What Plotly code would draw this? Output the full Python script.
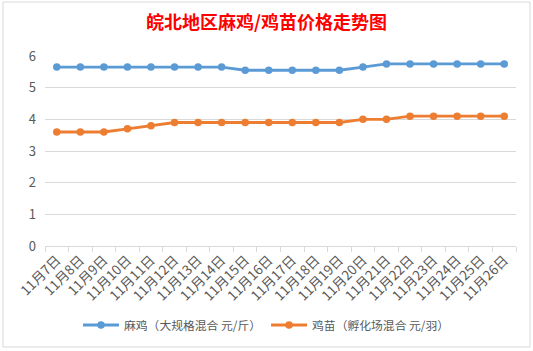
import plotly.graph_objects as go

dates = ["11月7日", "11月8日", "11月9日", "11月10日", "11月11日", "11月12日", "11月13日",
         "11月14日", "11月15日", "11月16日", "11月17日", "11月18日", "11月19日", "11月20日",
         "11月21日", "11月22日", "11月23日", "11月24日", "11月25日", "11月26日"]
maji = [5.65, 5.65, 5.65, 5.65, 5.65, 5.65, 5.65, 5.65, 5.55, 5.55, 5.55, 5.55, 5.55,
        5.65, 5.75, 5.75, 5.75, 5.75, 5.75, 5.75]
jimiao = [3.6, 3.6, 3.6, 3.7, 3.8, 3.9, 3.9, 3.9, 3.9, 3.9, 3.9, 3.9, 3.9,
          4.0, 4.0, 4.1, 4.1, 4.1, 4.1, 4.1]
name_maji = "麻鸡（大规格混合 元/斤）"
name_jimiao = "鸡苗（孵化场混合 元/羽）"
title_text = "皖北地区麻鸡/鸡苗价格走势图"
yticks = [0, 1, 2, 3, 4, 5, 6]

FONT = "Noto Sans CJK SC"
W, H = 533, 351
L, R, T, B = 45, 17, 56, 105
pw, ph = W - L - R, H - T - B

def px2x(px):
    return (px - L) / pw

def px2y(py):
    return (H - B - py) / ph

fig = go.Figure()
fig.add_trace(go.Scatter(x=dates, y=maji, name=name_maji, mode="lines+markers",
                         line=dict(color="#5B9BD5", width=2.8),
                         marker=dict(size=7.5, color="#5B9BD5")))
fig.add_trace(go.Scatter(x=dates, y=jimiao, name=name_jimiao, mode="lines+markers",
                         line=dict(color="#ED7D31", width=2.8),
                         marker=dict(size=7.5, color="#ED7D31")))

fig.update_layout(
    width=W, height=H,
    margin=dict(l=L, r=R, t=T, b=B, autoexpand=False),
    paper_bgcolor="white", plot_bgcolor="white",
    font=dict(family=FONT, color="#595959", size=12),
    title=dict(text=title_text, x=0.5, xanchor="center", y=1 - 23 / H, yanchor="middle",
               font=dict(family=FONT, size=18, color="#FF0000", weight="bold")),
    showlegend=True,
    legend=dict(orientation="h", x=px2x(W / 2), xanchor="center", y=px2y(325), yanchor="middle",
                font=dict(family=FONT, size=11.8, color="#595959"),
                itemwidth=36, bgcolor="rgba(0,0,0,0)"),
    xaxis=dict(type="category", tickangle=-45, tickson="boundaries", ticks="outside",
               ticklen=5, tickcolor="#D9D9D9", showline=True, linecolor="#D9D9D9",
               linewidth=1, showgrid=False, tickfont=dict(size=13.5, color="#595959"),
               range=[-0.5, len(dates) - 0.5], automargin=False),
    yaxis=dict(range=[0, 6], tickvals=yticks, showgrid=True, gridcolor="#D9D9D9",
               gridwidth=1, zeroline=False, showline=False, ticks="",
               tickfont=dict(size=13, color="#595959"), ticklabelstandoff=8,
               automargin=False),
)

fig.add_shape(type="rect", xref="paper", yref="paper",
              x0=px2x(3), x1=px2x(530), y0=px2y(347), y1=px2y(2),
              line=dict(color="#D9D9D9", width=1), fillcolor="rgba(0,0,0,0)", layer="below")

fig.write_html("out.html")
